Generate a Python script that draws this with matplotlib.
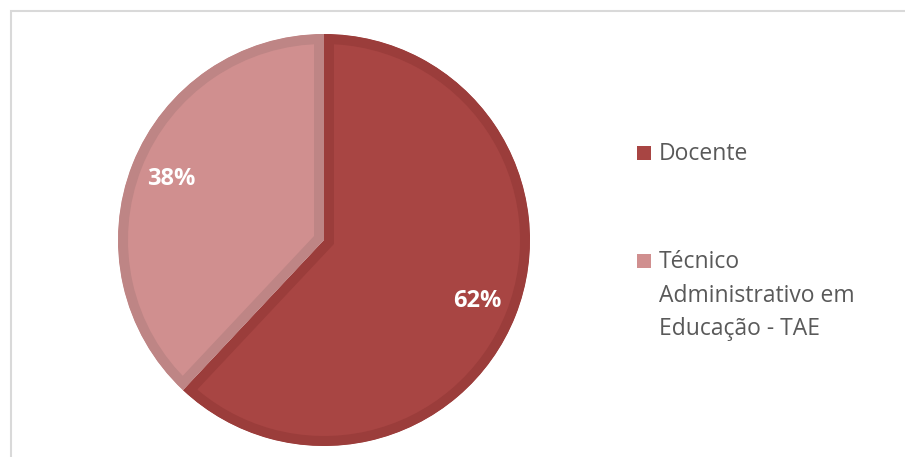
import matplotlib
matplotlib.use("Agg")
import matplotlib.pyplot as plt
from matplotlib.patches import Rectangle

# Distribuição de servidores por categoria
categorias = ["Docente", "Técnico\nAdministrativo em\nEducação - TAE"]
valores = [62, 38]
cores = ["#A84543", "#D08F8F"]
bordas = ["#9B3D3B", "#BE8585"]

plt.rcParams["font.family"] = ["Open Sans", "DejaVu Sans"]

W, H, DPI = 905, 457, 100
fig = plt.figure(figsize=(W / DPI, H / DPI), dpi=DPI)
fig.patch.set_facecolor("white")

# moldura cinza (só esquerda e topo aparecem)
fig.patches.append(Rectangle((10.5 / W, -0.1), 1.2, 1.1 - 10.5 / H,
                             transform=fig.transFigure, fill=False,
                             edgecolor="#D9D9D9", linewidth=1.5))

cx, cy, r = 324, 240, 206
ax = fig.add_axes([(cx - r) / W, (H - cy - r) / H, 2 * r / W, 2 * r / H])

wedges, texts, autotexts = ax.pie(
    valores, colors=cores, startangle=90, counterclock=False,
    autopct="%1.0f%%", pctdistance=0.8,
    textprops=dict(color="white", fontsize=17, fontweight="bold"))

# borda interna de cada fatia
borda_px = 10
for w, c in zip(wedges, bordas):
    w.set_edgecolor(c)
    w.set_linewidth(2 * borda_px * 72 / DPI)
    w.set_clip_path(w.get_path(), w.get_transform())
    w.set_clip_on(True)

ax.set_xlim(-1, 1)
ax.set_ylim(-1, 1)
ax.set_aspect("equal")
ax.axis("off")

# legenda
leg_y = [160, 268]
passo = 33.5
for nome, cor, y in zip(categorias, cores, leg_y):
    fig.patches.append(Rectangle((637 / W, 1 - (y) / H), 14 / W, 14 / H,
                                 transform=fig.transFigure, facecolor=cor,
                                 edgecolor="none"))
    for i, linha in enumerate(nome.split("\n")):
        fig.text(659 / W, 1 - (y + i * passo) / H, linha, ha="left",
                 va="baseline", fontsize=16.5, color="#595959")

fig.savefig("out.png", dpi=DPI)
